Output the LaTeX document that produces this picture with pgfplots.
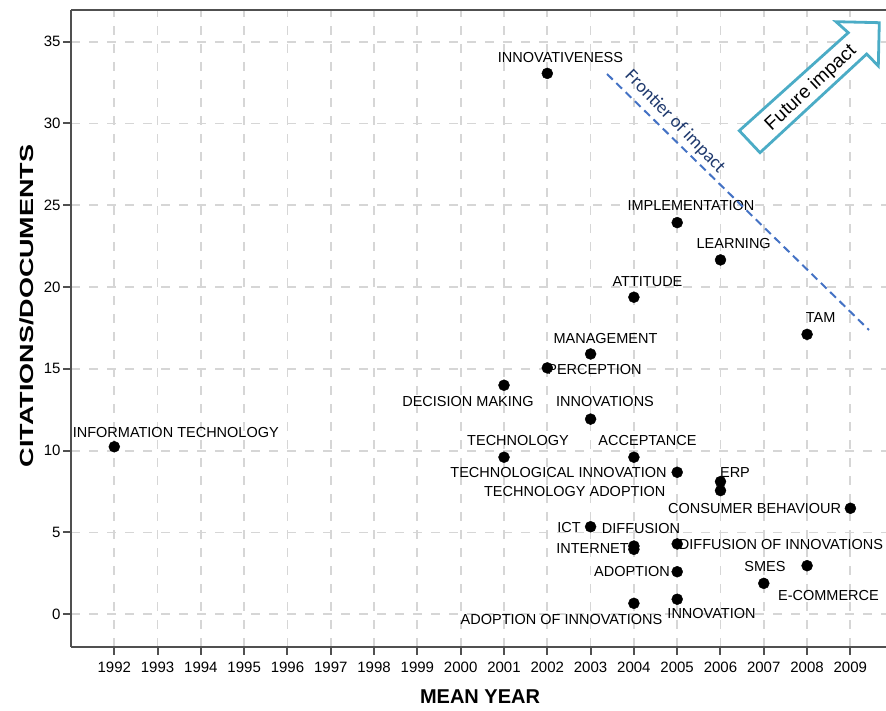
\documentclass[border=0pt]{standalone}
\usepackage{graphicx}
\usepackage{fontspec}
\setmainfont{Liberation Sans}
\newfontfamily\calibri{Carlito}
\usepackage{pgfplots}
\pgfplotsset{compat=1.18}

\definecolor{axisgray}{RGB}{80,80,80}
\definecolor{gridgray}{RGB}{214,214,214}
\definecolor{frontblue}{RGB}{68,114,196}
\definecolor{fronttext}{RGB}{32,58,110}
\definecolor{arrowteal}{RGB}{75,172,198}

\begin{document}
\begin{tikzpicture}
    \begin{axis}[
            at={(0,0)}, anchor=south west,
            x=43.3pt, y=16.36pt,
            xmin=1991, xmax=2009.86,
            ymin=-2, ymax=36.95,
            axis x line*=box, axis y line*=left,
            axis line style={axisgray, line width=2pt},
            xtick={1992,...,2009},
            ytick={0,5,...,35},
            xtick pos=left, ytick pos=left,
            tick align=outside,
            major tick length=8pt,
            tick style={axisgray, line width=2pt},
            xticklabel style={/pgf/number format/set thousands separator={}, yshift=-3pt},
            yticklabel style={xshift=1pt},
            /pgf/number format/assume math mode=true,
            tick label style={font=\fontsize{15}{17}\selectfont, black},
            grid=major,
            major grid style={gridgray, line width=1.8pt, dash pattern=on 9pt off 9pt},
            clip=false,
        ]

        % keyword position: mean year vs citations per document
        \addplot[only marks, mark=*, mark size=5.5pt, black] coordinates {
                (1992, 10.24) (2002, 33.06) (2005, 23.94) (2006, 21.66)
                (2004, 19.38) (2008, 17.11) (2003, 15.91) (2002, 15.06)
                (2001, 14.00) (2003, 11.93) (2001, 9.60) (2004, 9.60)
                (2005, 8.68) (2006, 8.11) (2006, 7.56) (2009, 6.48)
                (2003, 5.35) (2004, 4.17) (2004, 3.97) (2005, 4.30)
                (2005, 2.60) (2008, 2.97) (2007, 1.89) (2004, 0.67)
                (2005, 0.92)
            };

    \end{axis}

    % overlay in picture pixels (origin at the top left corner)
    \begin{scope}[x=1pt, y=-1pt, shift={(-71pt,647pt)},
            lbl/.style={font=\fontsize{14.5}{17}\selectfont, inner sep=0pt, black}]
        \node[lbl] at (175.8,432.7) {INFORMATION TECHNOLOGY};
        \node[lbl] at (560.5,57.3) {INNOVATIVENESS};
        \node[lbl] at (691,205.7) {IMPLEMENTATION};
        \node[lbl] at (733.7,243.3) {LEARNING};
        \node[lbl] at (647.5,281.7) {ATTITUDE};
        \node[lbl] at (820.7,317.7) {TAM};
        \node[lbl] at (605.5,338.5) {MANAGEMENT};
        \node[lbl] at (594.5,369.5) {PERCEPTION};
        \node[lbl] at (468,402) {DECISION MAKING};
        \node[lbl] at (605,402) {INNOVATIONS};
        \node[lbl] at (518,441) {TECHNOLOGY};
        \node[lbl] at (647.5,441) {ACCEPTANCE};
        \node[lbl] at (558.5,472.7) {TECHNOLOGICAL INNOVATION};
        \node[lbl] at (735,472.7) {ERP};
        \node[lbl] at (574.7,491.7) {TECHNOLOGY ADOPTION};
        \node[lbl] at (754.7,508.3) {CONSUMER BEHAVIOUR};
        \node[lbl] at (569,527.7) {ICT};
        \node[lbl] at (641,528.3) {DIFFUSION};
        \node[lbl] at (592.5,548.3) {INTERNET};
        \node[lbl] at (781,545) {DIFFUSION OF INNOVATIONS};
        \node[lbl] at (632,571.7) {ADOPTION};
        \node[lbl] at (765,566.7) {SMES};
        \node[lbl] at (828.5,595.7) {E-COMMERCE};
        \node[lbl] at (561.5,619.3) {ADOPTION OF INNOVATIONS};
        \node[lbl] at (711.5,613.3) {INNOVATION};

        % frontier of impact
        \draw[frontblue, line width=2pt, dash pattern=on 8pt off 5pt] (607,74) -- (869,330);
        \node[fronttext, rotate=-45.9, font=\calibri\fontsize{18.5}{20}\selectfont] at (675,122) {Frontier of impact};

        % future impact arrow
        \draw[arrowteal, line width=2.8pt, fill=white, line join=miter]
            (739.3,130.7) -- (848.3,32.7) -- (836,21.7) -- (879.3,22.7)
            -- (878.3,66) -- (866.7,54) -- (760,152.7) -- cycle;
        \node[rotate=42.8, font=\fontsize{19}{21}\selectfont] at (811,88) {Future impact};

        % axis titles
        \node[font=\bfseries\fontsize{20}{22}\selectfont] at (480,697) {MEAN YEAR};
        \node[rotate=90, font=\bfseries\fontsize{19}{21}\selectfont] at (27,306) {\scalebox{1.42}[1]{CITATIONS/DOCUMENTS}};

        \pgfresetboundingbox
        \useasboundingbox (0,0) rectangle (886,711);
    \end{scope}
\end{tikzpicture}
\end{document}
